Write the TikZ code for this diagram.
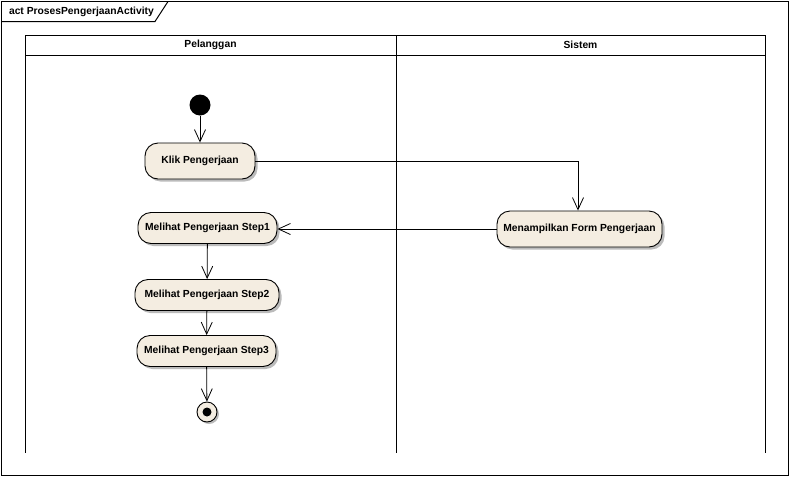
\documentclass[tikz,border=0pt]{standalone}
\usepackage{fontspec}
\setmainfont{Liberation Sans}
\usetikzlibrary{arrows.meta,shadows}
\definecolor{actfill}{RGB}{244,237,225}
\definecolor{shadowc}{RGB}{170,170,170}
\begin{document}
\begin{tikzpicture}[x=1pt,y=-1pt,
  act/.style={draw=black,line width=0.9pt,fill=actfill,rounded corners=13pt,
    font=\fontsize{10.3}{12}\selectfont\bfseries,inner sep=0pt,
    drop shadow={shadow xshift=2.5pt,shadow yshift=-2.5pt,fill=shadowc,opacity=0.8}},
  flow/.style={draw=black,line width=0.8pt,-{Straight Barb[length=12pt,width=11pt,line width=0.8pt]}},
  lane/.style={draw=black,line width=1pt},
  hdr/.style={font=\fontsize{10.3}{12}\selectfont\bfseries}]
\useasboundingbox (0,0) rectangle (790,477);
% frame
\draw[line width=1pt] (1.5,1.5) rectangle (788.5,475.5);
\draw[line width=1pt] (1.5,21.5) -- (155,21.5) -- (168,1.5);
\node[hdr,anchor=west] (title) at (5.5,11.5) {act ProsesPengerjaanActivity};
% swimlanes
\draw[lane] (25,35) -- (765,35);
\draw[lane] (25,55) -- (765,55);
\draw[lane] (25,35) -- (25,453);
\draw[lane] (396,35) -- (396,453);
\draw[lane] (765,35) -- (765,453);
\node[hdr] (lane1) at (210.5,45) {Pelanggan};
\node[hdr] (lane2) at (580.5,45) {Sistem};
% nodes
\node[circle,fill=black,minimum size=21pt,inner sep=0pt] (start) at (200,105) {};
\node[act,minimum width=110pt,minimum height=36pt] (klik) at (200,161) {Klik Pengerjaan};
\node[act,minimum width=165pt,minimum height=36pt] (form) at (579.5,229) {Menampilkan Form Pengerjaan};
\node[act,minimum width=139pt,minimum height=31pt] (s1) at (207.5,228) {Melihat Pengerjaan Step1};
\node[act,minimum width=144pt,minimum height=31pt] (s2) at (207,295) {Melihat Pengerjaan Step2};
\node[act,minimum width=139pt,minimum height=31pt] (s3) at (206.5,351) {Melihat Pengerjaan Step3};
\node[circle,draw=black,line width=0.9pt,fill=actfill,minimum size=20pt,inner sep=0pt,
  drop shadow={shadow xshift=2pt,shadow yshift=-2pt,fill=shadowc,opacity=0.8}] (end) at (207,412) {};
\node[circle,fill=black,minimum size=9pt,inner sep=0pt] (endin) at (end.center) {};
% connectors
\draw[flow] (start) -- (klik);
\draw[flow] (klik.east) -| (form.north -| 578,0);
\draw[flow] (form.west) -- (s1.east |- form.west);
\draw[flow] (s1) -- (s2);
\draw[flow] (s2) -- (s3);
\draw[flow] (s3) -- (end);
\end{tikzpicture}
\end{document}
